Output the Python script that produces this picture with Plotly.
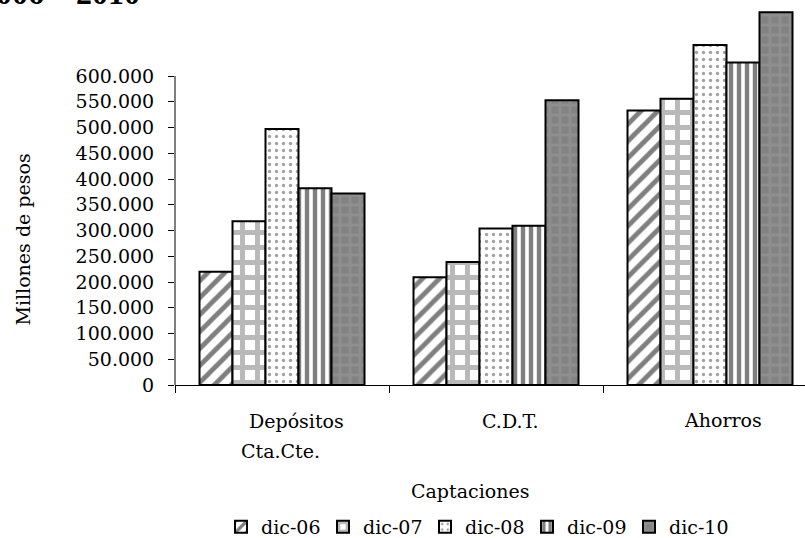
import plotly.graph_objects as go

categories = ["Depósitos Cta.Cte.", "C.D.T.", "Ahorros"]
series_names = ["dic-06", "dic-07", "dic-08", "dic-09", "dic-10"]
dic06 = [220000, 209000, 533000]
dic07 = [318000, 239000, 556000]
dic08 = [497000, 304000, 660000]
dic09 = [382000, 309000, 626000]
dic10 = [372000, 553000, 724000]
tick_values = [0, 50000, 100000, 150000, 200000, 250000, 300000,
               350000, 400000, 450000, 500000, 550000, 600000]

FONT = "DejaVu Serif"
series = [dic06, dic07, dic08, dic09, dic10]
patterns = [
    dict(shape="/", fgcolor="black", bgcolor="white", size=12, solidity=0.4),
    dict(shape="+", fgcolor="#747474", bgcolor="white", size=15, solidity=0.55),
    dict(shape=".", fgcolor="#444444", bgcolor="white", size=7, solidity=0.18),
    dict(shape="|", fgcolor="black", bgcolor="white", size=8, solidity=0.55),
    dict(shape="+", fgcolor="#9a9a9a", bgcolor="#828282", size=10, solidity=0.5),
]

fig = go.Figure()
for name, vals, pat in zip(series_names, series, patterns):
    fig.add_trace(go.Bar(
        x=categories, y=vals, name=name,
        marker=dict(pattern=pat, line=dict(color="black", width=2)),
    ))

W, H = 805, 538
L, R, T, B = 175, 0, 0, 153
plot_h = H - T - B
top_val = 600000 * plot_h / 309.0

fig.update_layout(
    width=W, height=H, autosize=False,
    margin=dict(l=L, r=R, t=T, b=B, pad=0, autoexpand=False),
    paper_bgcolor="white", plot_bgcolor="white",
    font=dict(family=FONT, size=19, color="black"),
    separators=",.",
    barmode="group", bargap=0.229, bargroupgap=0,
    showlegend=True,
    legend=dict(orientation="h", x=(221 - L) / 630, xanchor="left",
                y=-142 / plot_h, yanchor="middle",
                font=dict(family=FONT, size=19, color="black"),
                entrywidth=57, entrywidthmode="pixels",
                bgcolor="rgba(0,0,0,0)"),
)
fig.update_xaxes(
    range=[-0.5, 2.5 - 12 / 214], showline=True, linecolor="black", linewidth=1,
    ticks="outside", tickson="boundaries", ticklen=7, tickcolor="black",
    showticklabels=False, showgrid=False, zeroline=False, fixedrange=True,
    automargin=False,
)
fig.update_yaxes(
    range=[0, top_val], showline=False, showgrid=False, zeroline=False,
    tickvals=tick_values, tickformat=",d", ticks="outside", ticklen=6,
    tickcolor="black", ticklabelstandoff=10, automargin=False,
    tickfont=dict(family=FONT, size=19, color="black"),
)
# y-axis line from 0 to 600.000
fig.add_shape(type="line", xref="paper", yref="y", x0=0, x1=0,
              y0=0, y1=tick_values[-1], line=dict(color="black", width=1))

def px_x(p):
    return (p - L) / 630.0

def px_y(p):
    return (plot_h - p) / plot_h

ann = []
# category labels
ann.append(dict(x=categories[0], xref="x", xshift=14, y=px_y(421), yref="paper",
                text="Depósitos", showarrow=False, yanchor="middle"))
ann.append(dict(x=categories[0], xref="x", xshift=-1.5, y=px_y(451), yref="paper",
                text="Cta.Cte.", showarrow=False, yanchor="middle"))
ann.append(dict(x=categories[1], xref="x", xshift=14, y=px_y(421), yref="paper",
                text=categories[1], showarrow=False, yanchor="middle"))
ann.append(dict(x=categories[2], xref="x", xshift=13, y=px_y(420), yref="paper",
                text=categories[2], showarrow=False, yanchor="middle"))
# axis titles
ann.append(dict(x=px_x(470), xref="paper", y=px_y(491), yref="paper",
                text="Captaciones", showarrow=False, yanchor="middle"))
ann.append(dict(x=px_x(23), xref="paper", y=px_y(239.5), yref="paper",
                text="Millones de pesos", showarrow=False, textangle=-90,
                xanchor="center", yanchor="middle"))
# title (cropped at the top)
ann.append(dict(x=px_x(142), xref="paper", xanchor="right",
                y=px_y(13), yref="paper", yanchor="bottom",
                text="<b>2006 – 2010</b>", showarrow=False,
                font=dict(family="Liberation Serif", size=32, color="black")))
fig.update_layout(annotations=ann)

fig.write_html(
    "out.html",
    config={"displayModeBar": False},
    post_script="document.body.style.margin='0';document.body.style.overflow='hidden';",
)
